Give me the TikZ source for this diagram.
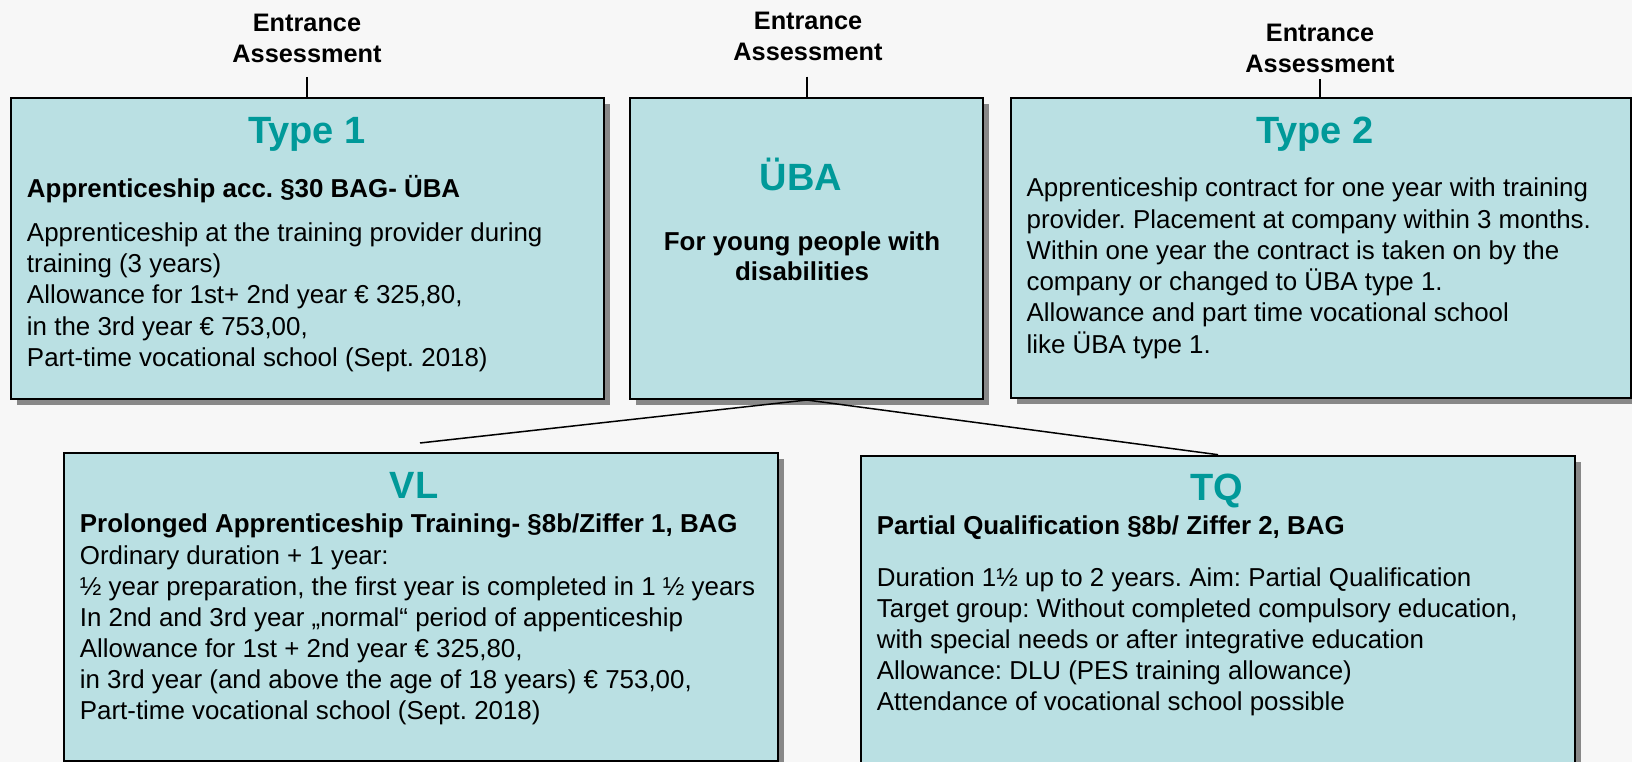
\documentclass[tikz,border=0pt]{standalone}
\usepackage{fontspec}
\setmainfont{Liberation Sans}
\usetikzlibrary{shadows}
\frenchspacing
\definecolor{bgc}{RGB}{247,247,247}
\definecolor{boxfill}{RGB}{186,224,227}
\definecolor{tealtitle}{RGB}{0,153,153}
\definecolor{shad}{RGB}{136,136,136}
\begin{document}
\begin{tikzpicture}[x=1pt,y=-1pt,
  box/.style={draw=black, line width=2pt, fill=boxfill, rectangle, anchor=north west, inner sep=0pt,
    drop shadow={shadow xshift=6pt, shadow yshift=-6pt, fill=shad, opacity=1}},
  ttl/.style={anchor=base, inner sep=0pt, text=tealtitle, font=\fontsize{38}{45}\selectfont\bfseries},
  sub/.style={anchor=base west, inner sep=0pt, font=\fontsize{25.9}{31.1}\selectfont\bfseries},
  body/.style={anchor=base west, inner sep=0pt, align=left, font=\fontsize{25.9}{31.1}\selectfont},
  ealab/.style={anchor=base, inner sep=0pt, align=center, font=\fontsize{25.3}{31}\selectfont\bfseries},
  ubasub/.style={anchor=base, inner sep=0pt, align=center, font=\fontsize{25.9}{30}\selectfont\bfseries},
  conn/.style={draw=black, line width=1.5pt},
]
\useasboundingbox (0,0) rectangle (1632,762);
\fill[bgc] (0,0) rectangle (1632,762);

% entrance labels (anchored at the baseline of the last line)
\node[ealab] (ea1) at (307,62.3) {Entrance\\Assessment};
\node[ealab] (ea2) at (808,60.7) {Entrance\\Assessment};
\node[ealab] (ea3) at (1320,72.7) {Entrance\\Assessment};
\coordinate (ea1b) at (307,77);
\coordinate (ea2b) at (807,76.7);
\coordinate (ea3b) at (1320,79);

% boxes
\node[box, minimum width=593pt, minimum height=300.2pt] (t1) at (10.3,97.3) {};
\node[box, minimum width=353pt, minimum height=300.7pt] (uba) at (629.3,97.3) {};
\node[box, minimum width=620pt, minimum height=300pt] (t2) at (1010,97.3) {};
\node[box, minimum width=713.5pt, minimum height=307.7pt] (vl) at (63.3,452.3) {};
\node[box, minimum width=713.2pt, minimum height=307pt] (tq) at (860.4,454.7) {};

% connectors
\draw[conn] (ea1b) -- (ea1b |- t1.north);
\draw[conn] (ea2b) -- (ea2b |- uba.north);
\draw[conn] (ea3b) -- (ea3b |- t2.north);
\coordinate (vltop) at (420,443);
\draw[conn] (uba.south) -- (vltop);
\draw[conn] (uba.south) -- (tq.north);

% Type 1
\node[ttl] (t1title) at (306.8,143.3) {Type 1};
\node[sub] (t1sub) at (26.8,197.3) {Apprenticeship acc. §30 BAG- ÜBA};
\node[body] (t1body) at (26.8,366.1) {Apprenticeship at the training provider during\\training (3 years)\\Allowance for 1st+ 2nd year € 325,80,\\in the 3rd year € 753,00,\\Part-time vocational school (Sept. 2018)};

% UBA
\node[ttl] (ubatitle) at (801,190) {ÜBA};
\node[ubasub] (ubatext) at (802,280) {For young people with\\disabilities};

% Type 2
\node[ttl] (t2title) at (1315,143.3) {Type 2};
\node[body, font=\fontsize{25.9}{31.3}\selectfont] (t2body) at (1026.4,353.2) {Apprenticeship contract for one year with training\\provider. Placement at company within 3 months.\\Within one year the contract is taken on by the\\company or changed to ÜBA type 1.\\Allowance and part time vocational school\\like ÜBA type 1.};

% VL
\node[ttl] (vltitle) at (414.2,498.3) {VL};
\node[sub] (vlsub) at (79.7,532.7) {Prolonged Apprenticeship Training- §8b/Ziffer 1, BAG};
\node[body, font=\fontsize{25.9}{31}\selectfont] (vlbody) at (79.7,719.3) {Ordinary duration + 1 year:\\½ year preparation, the first year is completed in 1 ½ years\\In 2nd and 3rd year „normal“ period of appenticeship\\Allowance for 1st + 2nd year € 325,80,\\in 3rd year (and above the age of 18 years) € 753,00,\\Part-time vocational school (Sept. 2018)};

% TQ
\node[ttl] (tqtitle) at (1216.4,500.7) {TQ};
\node[sub] (tqsub) at (876.7,534) {Partial Qualification §8b/ Ziffer 2, BAG};
\node[body, font=\fontsize{25.9}{31}\selectfont] (tqbody) at (876.7,710.7) {Duration 1½ up to 2 years. Aim: Partial Qualification\\Target group: Without completed compulsory education,\\with special needs or after integrative education\\Allowance: DLU (PES training allowance)\\Attendance of vocational school possible};
\end{tikzpicture}
\end{document}
